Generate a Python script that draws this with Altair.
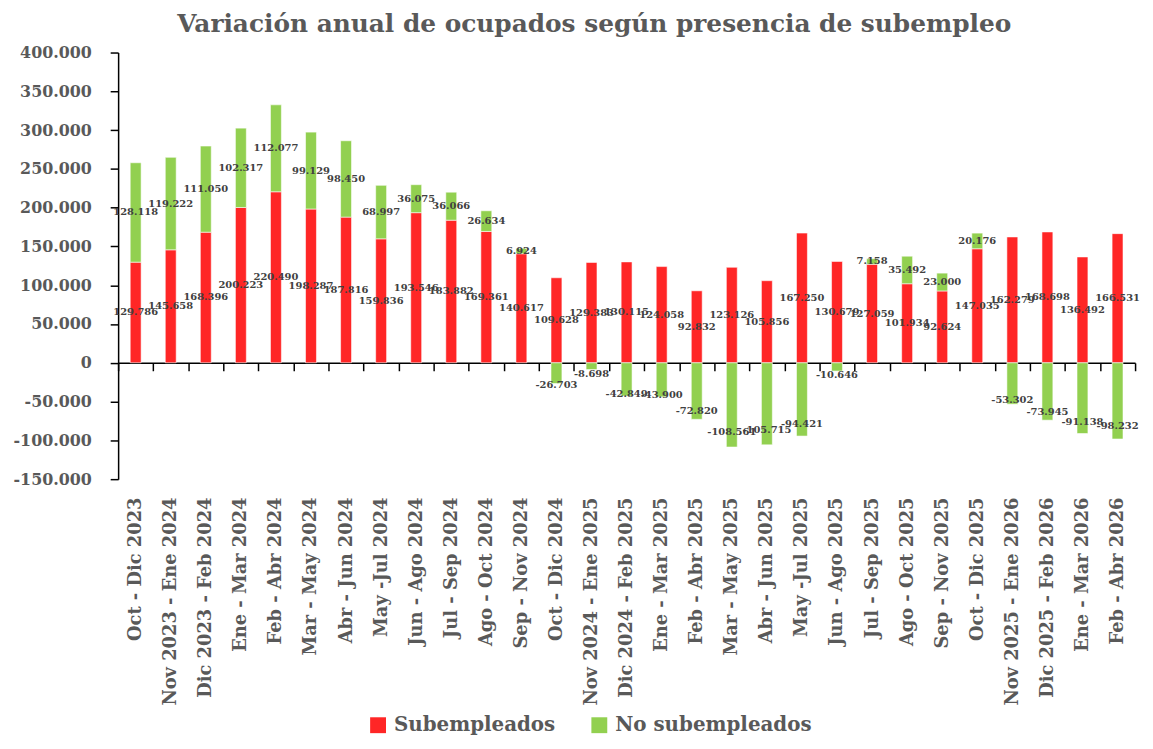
import altair as alt
import pandas as pd

FONT = "DejaVu Serif"

periods = [
    "Oct - Dic 2023", "Nov 2023 - Ene 2024", "Dic 2023 - Feb 2024", "Ene - Mar 2024",
    "Feb - Abr 2024", "Mar - May 2024", "Abr - Jun 2024", "May -Jul 2024",
    "Jun - Ago 2024", "Jul - Sep 2024", "Ago - Oct 2024", "Sep - Nov 2024",
    "Oct - Dic 2024", "Nov 2024 - Ene 2025", "Dic 2024 - Feb 2025", "Ene - Mar 2025",
    "Feb - Abr 2025", "Mar - May 2025", "Abr - Jun 2025", "May -Jul 2025",
    "Jun - Ago 2025", "Jul - Sep 2025", "Ago - Oct 2025", "Sep - Nov 2025",
    "Oct - Dic 2025", "Nov 2025 - Ene 2026", "Dic 2025 - Feb 2026", "Ene - Mar 2026",
    "Feb - Abr 2026",
]

subempleados = [
    129786, 145658, 168396, 200223, 220490, 198287, 187816, 159836,
    193546, 183882, 169361, 140617, 109628, 129383, 130115, 124058,
    92832, 123126, 105856, 167250, 130679, 127059, 101934, 92624,
    147035, 162279, 168698, 136492, 166531,
]

no_subempleados = [
    128118, 119222, 111050, 102317, 112077, 99129, 98450, 68997,
    36075, 36066, 26634, 6924, -26703, -8698, -42849, -43900,
    -72820, -108561, -105715, -94421, -10646, 7158, 35492, 23000,
    20176, -53302, -73945, -91138, -98232,
]

series = ["Subempleados", "No subempleados"]
colors = ["#FF2626", "#92D050"]
y_ticks = [-150000, -100000, -50000, 0, 50000, 100000, 150000, 200000,
           250000, 300000, 350000, 400000]
y_domain = [-150000, 400000]
title_text = "Variación anual de ocupados según presencia de subempleo"


def fmt(v):
    s = f"{abs(v):,}".replace(",", ".")
    return ("-" if v < 0 else "") + s


rows = []
for i, p in enumerate(periods):
    s = subempleados[i]
    n = no_subempleados[i]
    rows.append(dict(period=p, serie=series[0], value=s, order=0,
                     label=fmt(s), labelY=s / 2))
    rows.append(dict(period=p, serie=series[1], value=n, order=1,
                     label=fmt(n), labelY=(s + n / 2) if n >= 0 else n * 0.75 - 8000))
df = pd.DataFrame(rows)

W = 1025
H = 430
zero_offset = H * (0 - y_domain[0]) / (y_domain[1] - y_domain[0])

x_axis = alt.Axis(
    orient="bottom", offset=-zero_offset, labelPadding=zero_offset + 10,
    labelAngle=-90, labelFont=FONT, labelFontSize=18, labelFontWeight="bold",
    labelColor="#595959", domainColor="black", domainWidth=1.5,
    tickColor="black", tickSize=8, tickWidth=1.5, tickBand="extent", labelLimit=400,
)
y_axis = alt.Axis(
    values=y_ticks, grid=False, domainColor="black", domainWidth=1.5,
    tickColor="black", tickSize=8, tickWidth=1.5, labelPadding=19,
    labelFont=FONT, labelFontSize=16, labelFontWeight="bold", labelColor="#595959",
    labelExpr="(datum.value < 0 ? '-' : '') + replace(format(abs(datum.value), ','), /,/g, '.')",
)
x_scale = alt.Scale(paddingInner=0, paddingOuter=0)
y_scale = alt.Scale(domain=y_domain, nice=False, zero=False)

base = alt.Chart(df)

bars = base.mark_bar(size=11, stroke="white", strokeWidth=0.8, strokeOpacity=0.7).encode(
    x=alt.X("period:N", sort=periods, title=None, scale=x_scale, axis=x_axis),
    y=alt.Y("value:Q", stack="zero", title=None, scale=y_scale, axis=y_axis),
    color=alt.Color(
        "serie:N", sort=series,
        scale=alt.Scale(domain=series, range=colors),
        legend=alt.Legend(
            orient="none", legendX=252, legendY=668, direction="horizontal",
            title=None, symbolType="square", symbolSize=256, symbolStrokeWidth=0,
            labelFont=FONT, labelFontSize=20, labelFontWeight="bold",
            labelColor="#595959", labelLimit=400, columnPadding=34, labelOffset=6,
        ),
    ),
    order=alt.Order("order:Q"),
)

labels = base.mark_text(
    font=FONT, fontSize=10, fontWeight="bold", color="#404040"
).encode(
    x=alt.X("period:N", sort=periods, title=None, scale=x_scale, axis=x_axis),
    y=alt.Y("labelY:Q", stack=None, title=None, scale=y_scale, axis=y_axis),
    text="label:N",
)

chart = alt.layer(bars, labels).properties(
    width=W, height=H,
    title=alt.Title(
        title_text, font=FONT, fontSize=25, fontWeight="bold", color="#595959",
        anchor="middle", frame="bounds", offset=8, dx=18,
    ),
    padding={"left": 4, "right": 5, "top": 1, "bottom": 0},
).configure_view(strokeWidth=0)

chart.save("out.html", embed_options={"renderer": "svg", "actions": False})
